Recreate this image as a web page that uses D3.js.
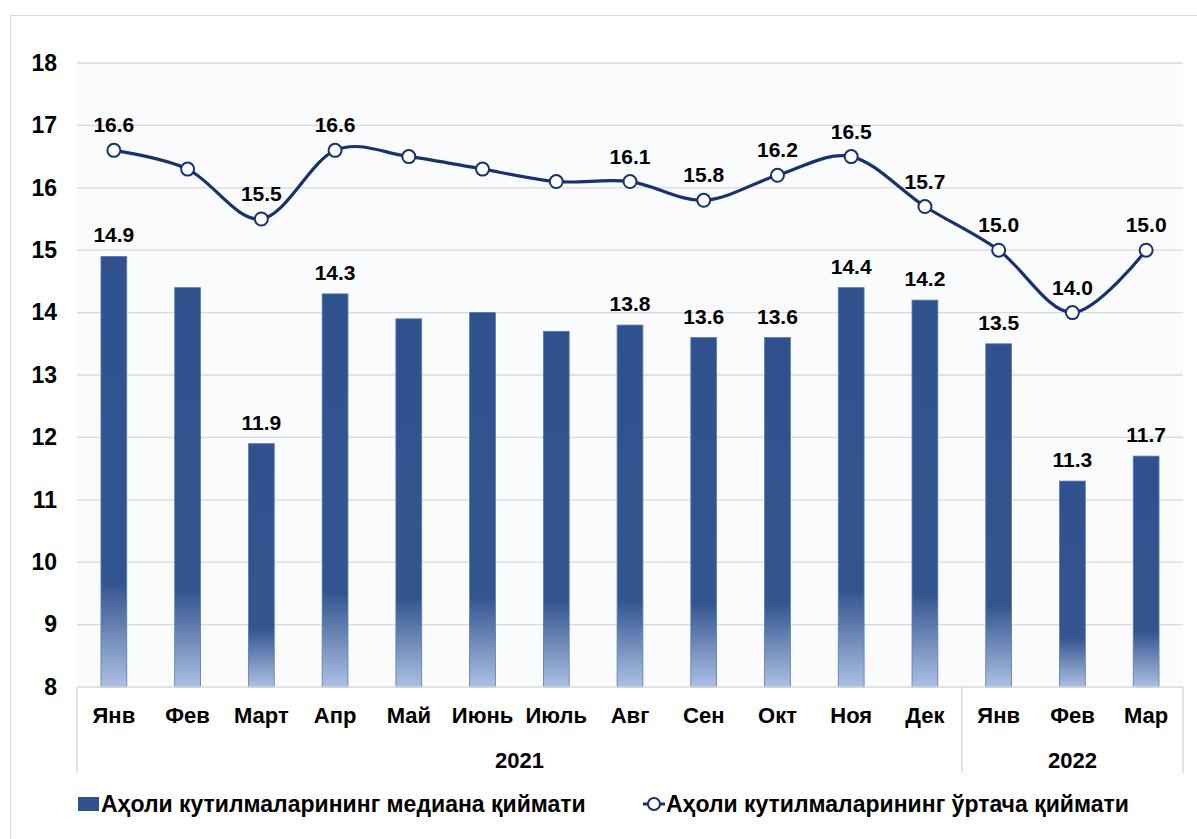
<!DOCTYPE html>
<html><head><meta charset="utf-8">
<script src="https://cdn.jsdelivr.net/npm/d3@7"></script>
<style>
html,body{margin:0;padding:0;background:#fff;}
svg{display:block;font-family:"Liberation Sans",Arial,sans-serif;}
</style></head>
<body>
<svg id="chart" width="1197" height="839"></svg>
<script>
const months = ["Янв","Фев","Март","Апр","Май","Июнь","Июль","Авг","Сен","Окт","Ноя","Дек","Янв","Фев","Мар"];
const years = [{label:"2021", start:0, end:12},{label:"2022", start:12, end:15}];
const medianValues = [14.9,14.4,11.9,14.3,13.9,14.0,13.7,13.8,13.6,13.6,14.4,14.2,13.5,11.3,11.7];
const meanValues   = [16.6,16.3,15.5,16.6,16.5,16.3,16.1,16.1,15.8,16.2,16.5,15.7,15.0,14.0,15.0];
const labelled     = [true,false,true,true,false,false,false,true,true,true,true,true,true,true,true];
const yTicks = [8,9,10,11,12,13,14,15,16,17,18];
const seriesNames = ["Аҳоли кутилмаларининг медиана қиймати","Аҳоли кутилмаларининг ўртача қиймати"];

const svg = d3.select("#chart");
const pLeft = 77, pRight = 1183, pTop = 63, pBottom = 687;

const defs = svg.append("defs");
const grad = defs.append("linearGradient").attr("id","barGrad")
  .attr("x1",0).attr("y1",0).attr("x2",0).attr("y2",1);
grad.append("stop").attr("offset","0%").attr("stop-color","#2f528f");
grad.append("stop").attr("offset","76%").attr("stop-color","#33558f");
grad.append("stop").attr("offset","100%").attr("stop-color","#adc0e4");

// outer frame
svg.append("rect").attr("x",10.5).attr("y",15.5).attr("width",1200).attr("height",840)
  .attr("fill","none").attr("stroke","#d9d9d9").attr("stroke-width",1);

const x = d3.scaleBand().domain(d3.range(months.length)).range([pLeft,pRight]).paddingInner(0.65).paddingOuter(0.325);
const y = d3.scaleLinear().domain([8,18]).range([pBottom,pTop]);
const cx = i => x(i) + x.bandwidth()/2;

// plot background
svg.append("rect").attr("x",pLeft).attr("y",pTop).attr("width",pRight-pLeft).attr("height",pBottom-pTop).attr("fill","#fafbfd");

// gridlines
svg.append("g").selectAll("line").data(yTicks.slice(1)).join("line")
  .attr("x1",pLeft).attr("x2",pRight).attr("y1",d=>y(d)).attr("y2",d=>y(d))
  .attr("stroke","#d9d9d9").attr("stroke-width",1.3);

// y axis labels
const yAxis = svg.append("g").attr("transform",`translate(${pLeft},0)`)
  .call(d3.axisLeft(y).tickValues(yTicks).tickSize(0).tickPadding(20).tickFormat(d3.format("d")));
yAxis.select(".domain").remove();
yAxis.selectAll("text").attr("font-size",23).attr("font-weight","bold").attr("fill","#000")
  .attr("font-family","Liberation Sans, Arial, sans-serif");

// bars
svg.append("g").selectAll("rect").data(medianValues).join("rect")
  .attr("x",(d,i)=>x(i)).attr("width",x.bandwidth())
  .attr("y",d=>y(d)).attr("height",d=>y(8)-y(d))
  .attr("fill","url(#barGrad)").attr("stroke","#5a7bb0").attr("stroke-width",0.8);

// x axis line
svg.append("line").attr("x1",pLeft).attr("x2",pRight).attr("y1",pBottom).attr("y2",pBottom)
  .attr("stroke","#d9d9d9").attr("stroke-width",1.5);

// x axis (months)
const xAxis = svg.append("g").attr("transform",`translate(0,${pBottom})`)
  .call(d3.axisBottom(x).tickSize(0).tickPadding(20).tickFormat(i=>months[i]));
xAxis.select(".domain").remove();
xAxis.selectAll("text").attr("font-size",22).attr("font-weight","bold").attr("fill","#000")
  .attr("font-family","Liberation Sans, Arial, sans-serif");

// year separators & labels
const step = x.step();
const edge = i => pLeft + i*step;
const seps = [0,12,15];
svg.append("g").selectAll("line").data(seps).join("line")
  .attr("x1",d=>edge(d)).attr("x2",d=>edge(d)).attr("y1",pBottom).attr("y2",773)
  .attr("stroke","#d9d9d9").attr("stroke-width",1.5);
svg.append("g").selectAll("text").data(years).join("text")
  .attr("x",d=>(edge(d.start)+edge(d.end))/2).attr("y",768)
  .attr("text-anchor","middle").attr("font-size",22).attr("font-weight","bold").attr("fill","#000")
  .text(d=>d.label);

// line
const line = d3.line().x((d,i)=>cx(i)).y(d=>y(d)).curve(d3.curveCatmullRom.alpha(0));
svg.append("path").datum(meanValues).attr("d",line)
  .attr("fill","none").attr("stroke","#17326f").attr("stroke-width",3.2);
svg.append("g").selectAll("circle").data(meanValues).join("circle")
  .attr("cx",(d,i)=>cx(i)).attr("cy",d=>y(d)).attr("r",6.5)
  .attr("fill","#fff").attr("stroke","#17326f").attr("stroke-width",2);

// data labels
const fmt = d3.format(".1f");
const meanLab = meanValues.map((v,i)=>({v,i})).filter(d=>labelled[d.i]);
const medLab = medianValues.map((v,i)=>({v,i})).filter(d=>labelled[d.i]);
svg.append("g").selectAll("text").data(meanLab).join("text")
  .attr("x",d=>cx(d.i)).attr("y",d=>y(d.v)-18)
  .attr("text-anchor","middle").attr("font-size",21).attr("font-weight","bold").attr("fill","#000")
  .text(d=>fmt(d.v));
svg.append("g").selectAll("text").data(medLab).join("text")
  .attr("x",d=>cx(d.i)).attr("y",d=>y(d.v)-14)
  .attr("text-anchor","middle").attr("font-size",21).attr("font-weight","bold").attr("fill","#000")
  .text(d=>fmt(d.v));

// legend
const lg = svg.append("g");
lg.append("rect").attr("x",78).attr("y",797).attr("width",21).attr("height",14).attr("fill","#2f528f");
lg.append("text").attr("x",101).attr("y",812).attr("font-size",23).attr("font-weight","bold").attr("fill","#000")
  .text(seriesNames[0]);
lg.append("line").attr("x1",643).attr("x2",665).attr("y1",804).attr("y2",804).attr("stroke","#17326f").attr("stroke-width",3);
lg.append("circle").attr("cx",654).attr("cy",804).attr("r",6).attr("fill","#fff").attr("stroke","#17326f").attr("stroke-width",2);
lg.append("text").attr("x",666).attr("y",812).attr("font-size",23).attr("font-weight","bold").attr("fill","#000")
  .text(seriesNames[1]);
</script>
</body></html>
